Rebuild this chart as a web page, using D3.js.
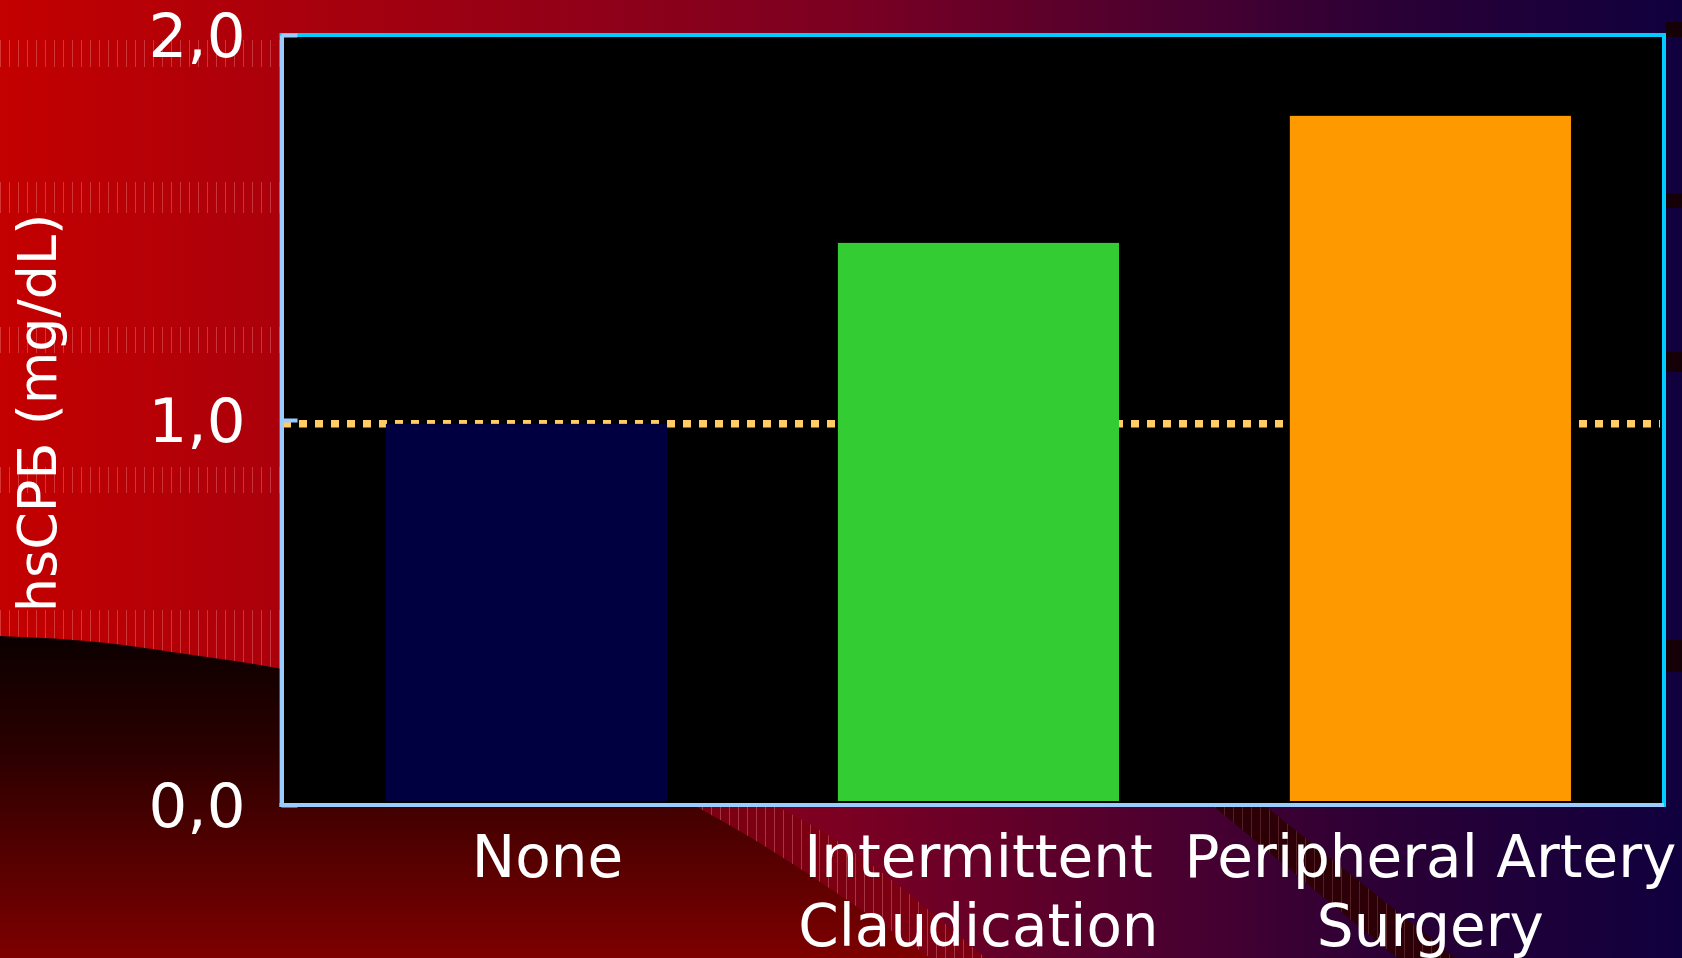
<!DOCTYPE html>
<html><head><meta charset="utf-8">
<script src="https://cdn.jsdelivr.net/npm/d3@7"></script>
<style>html,body{margin:0;padding:0;background:#000;overflow:hidden}</style>
</head><body><svg id="chart" width="1682" height="958"></svg>
<script>
// ---- data ----
const categories = ["None", "Intermittent Claudication", "Peripheral Artery Surgery"];
const categoryLabels = [["None"], ["Intermittent", "Claudication"], ["Peripheral Artery", "Surgery"]];
const values = [0.99, 1.46, 1.79];
const barColors = ["#000040", "#33cc33", "#ff9900"];
const referenceValue = 0.99;
const yTicks = [0, 1, 2];
const yTickLabels = ["0,0", "1,0", "2,0"];
const yTitle = "hsCPБ (mg/dL)";

// ---- layout ----
const W = 1682, H = 958;
const plot = {left: 281.5, right: 1664, top: 35, bottom: 805};
const svg = d3.select("#chart");
const defs = svg.append("defs");

// background gradients
const bg = defs.append("linearGradient").attr("id", "bgGrad").attr("x1", 0).attr("x2", 1).attr("y1", 0).attr("y2", 0);
[[0, "#c40000"], [0.17, "#aa000c"], [0.5, "#7c0022"], [0.7, "#4a0030"], [0.83, "#2a0036"], [1, "#10003e"]]
  .forEach(([o, c]) => bg.append("stop").attr("offset", o).attr("stop-color", c));
const dk = defs.append("linearGradient").attr("id", "darkGrad")
  .attr("gradientUnits", "userSpaceOnUse").attr("x1", 0).attr("y1", 636).attr("x2", 0).attr("y2", 958);
[[0, "#0c0000"], [0.35, "#2a0000"], [1, "#7e0000"]]
  .forEach(([o, c]) => dk.append("stop").attr("offset", o).attr("stop-color", c));
const hair = defs.append("pattern").attr("id", "hair").attr("width", 9).attr("height", 10).attr("patternUnits", "userSpaceOnUse");
hair.append("line").attr("x1", 0.5).attr("x2", 0.5).attr("y1", 0).attr("y2", 10)
  .attr("stroke", "#ffb0b0").attr("stroke-opacity", 0.3).attr("stroke-width", 1);

svg.append("rect").attr("width", W).attr("height", H).attr("fill", "url(#bgGrad)");
// faint textured bands on the left
[[40, 67], [182, 213], [327, 353], [467, 493], [610, 672]].forEach(([a, b]) => {
  svg.append("rect").attr("x", 0).attr("y", a).attr("width", 290).attr("height", b - a).attr("fill", "url(#hair)");
});
// dark blocks at the right edge
[[22, 37], [193, 208], [352, 372], [640, 672]].forEach(([a, b]) => {
  svg.append("rect").attr("x", 1666).attr("y", a).attr("width", 16).attr("height", b - a).attr("fill", "#140006");
});
// red hairline stripe (mostly hidden under the dark shape)
const lineGen = d3.line().curve(d3.curveMonotoneX);
const stripePts = [[0, 660], [277, 690], [600, 765], [777, 807], [990, 962]];
svg.append("path").attr("d", lineGen(stripePts) + "L0,962Z").attr("fill", "#7c0012");
svg.append("path").attr("d", lineGen(stripePts) + "L0,962Z").attr("fill", "url(#hair)");
// dark lower-left shape
svg.append("path").attr("d", lineGen([[0, 636], [107, 643], [172, 652], [277, 668], [697, 807], [936, 962]]) + "L0,962Z")
  .attr("fill", "url(#darkGrad)");
// second dark stripe
svg.append("path").attr("d", "M1212,805L1264,805L1460,962L1402,962Z").attr("fill", "#2c0006");
svg.append("path").attr("d", "M1212,805L1264,805L1460,962L1402,962Z").attr("fill", "url(#hair)").attr("opacity", 0.6);

// ---- scales ----
const y = d3.scaleLinear().domain([0, 2]).range([plot.bottom, plot.top]);
const x = d3.scaleBand().domain(categories).range([281, 1664])
  .paddingInner(0.378).paddingOuter(0.219).align(0.53);

// plot area
svg.append("rect").attr("x", plot.left).attr("y", plot.top)
  .attr("width", plot.right - plot.left).attr("height", plot.bottom - plot.top)
  .attr("fill", "#000").attr("stroke", "#00ccff").attr("stroke-width", 4);

// reference dotted line
svg.append("line").attr("x1", plot.left + 1.5).attr("x2", plot.right - 4)
  .attr("y1", y(referenceValue)).attr("y2", y(referenceValue))
  .attr("stroke", "#ffcc66").attr("stroke-width", 7.5).attr("stroke-dasharray", "8,8");

// bars
svg.append("g").selectAll("rect").data(values).join("rect")
  .attr("x", (d, i) => x(categories[i]))
  .attr("width", x.bandwidth())
  .attr("y", d => y(d))
  .attr("height", d => y(0) - 4 - y(d))
  .attr("fill", (d, i) => barColors[i]);

// y axis
const yAxis = d3.axisLeft(y).tickValues(yTicks).tickFormat((d, i) => yTickLabels[i])
  .tickSizeInner(-16).tickSizeOuter(0).tickPadding(36);
const gy = svg.append("g").attr("transform", `translate(${plot.left},0)`).call(yAxis);
gy.select(".domain").attr("stroke", "#99ccff").attr("stroke-width", 4);
gy.selectAll(".tick line").attr("stroke", "#99ccff").attr("stroke-width", 4);
gy.selectAll(".tick text").attr("fill", "#fff").attr("font-family", "'DejaVu Sans', Verdana, sans-serif")
  .attr("font-size", 61).attr("dy", "0.36em");

// x axis line
const xAxis = d3.axisBottom(x).tickSize(0).tickFormat("");
const gx = svg.append("g").attr("transform", `translate(0,${plot.bottom})`).call(xAxis);
gx.select(".domain").attr("stroke", "#99ccff").attr("stroke-width", 4)
  .attr("d", `M${plot.left - 2},0H${plot.right}`);

// category labels
const lab = svg.append("g").attr("font-family", "'DejaVu Sans', Verdana, sans-serif")
  .attr("font-size", 58).attr("fill", "#fff").attr("text-anchor", "middle");
categories.forEach((c, i) => {
  const t = lab.append("text")
    .attr("transform", `translate(${x(c) + x.bandwidth() / 2 + (categoryLabels[i].length === 1 ? 21 : 0)},877)`);
  categoryLabels[i].forEach((line, k) => t.append("tspan").attr("x", 0).attr("y", k * 69).text(line));
});

// y title
svg.append("text").attr("transform", "translate(56,413) rotate(-90)")
  .attr("text-anchor", "middle").attr("fill", "#fff")
  .attr("font-family", "'DejaVu Sans', Verdana, sans-serif").attr("font-size", 54)
  .text(yTitle);
</script></body></html>
